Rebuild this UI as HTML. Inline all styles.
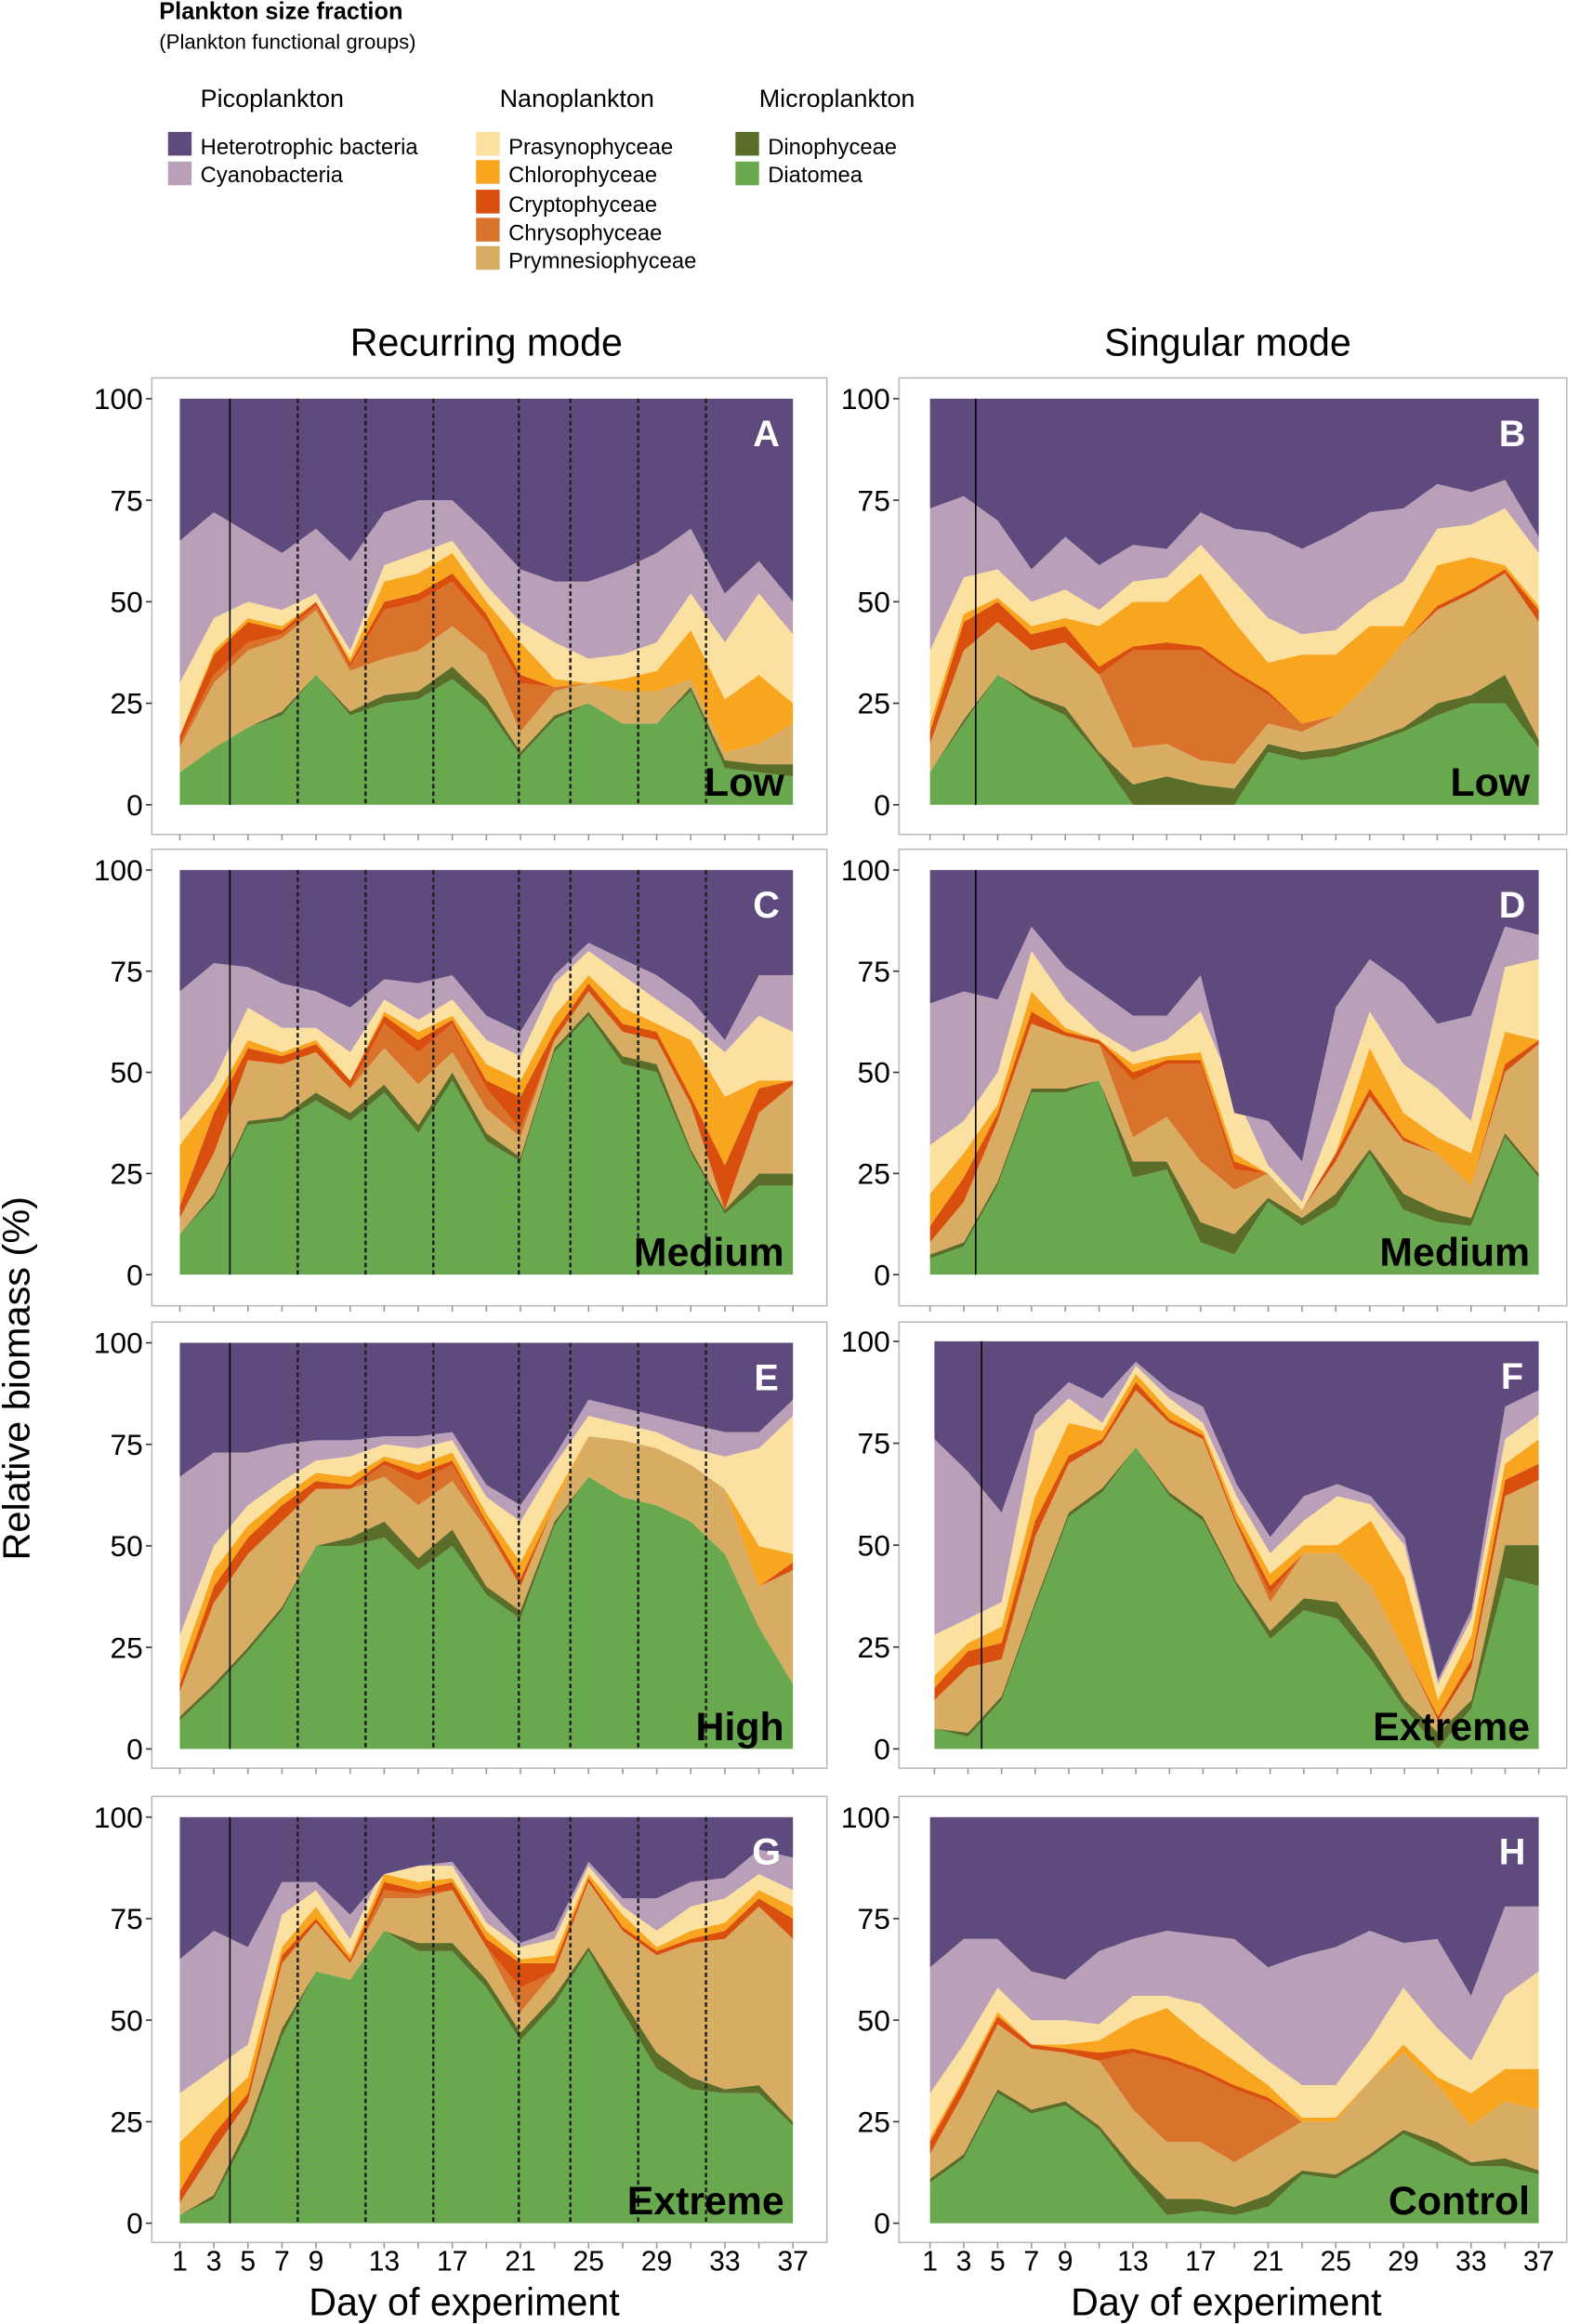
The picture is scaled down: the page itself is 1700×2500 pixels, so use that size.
<!DOCTYPE html>
<html><head><meta charset="utf-8">
<style>html,body{margin:0;padding:0;background:#fff}svg{display:block}</style>
</head><body>
<svg id="s" xmlns="http://www.w3.org/2000/svg" width="1700" height="2500" viewBox="0 0 1072 1568" preserveAspectRatio="none" font-family="Liberation Sans, sans-serif">
<rect width="1072" height="1568" fill="#fff"/>
<text x="108" y="13" font-size="16" font-weight="bold">Plankton size fraction</text>
<text x="108" y="33" font-size="14">(Plankton functional groups)</text>
<text x="136" y="72" font-size="17">Picoplankton</text>
<text x="339" y="72" font-size="17">Nanoplankton</text>
<text x="515" y="72" font-size="17">Microplankton</text>
<g font-size="15">
<rect x="114" y="89" width="16" height="16" fill="#5e4a7c"/><text x="136" y="104">Heterotrophic bacteria</text>
<rect x="114" y="109" width="16" height="16" fill="#b9a0b8"/><text x="136" y="123">Cyanobacteria</text>
<rect x="323" y="89" width="16" height="16" fill="#fbe0a0"/><text x="345" y="104">Prasynophyceae</text>
<rect x="323" y="108" width="16" height="16" fill="#f8a51f"/><text x="345" y="123">Chlorophyceae</text>
<rect x="323" y="128" width="16" height="16" fill="#d9500e"/><text x="345" y="143">Cryptophyceae</text>
<rect x="323" y="147" width="16" height="16" fill="#d9722a"/><text x="345" y="162">Chrysophyceae</text>
<rect x="323" y="166" width="16" height="16" fill="#d8ac62"/><text x="345" y="181">Prymnesiophyceae</text>
<rect x="499" y="89" width="16" height="16" fill="#5a6e2a"/><text x="521" y="104">Dinophyceae</text>
<rect x="499" y="109" width="16" height="16" fill="#6aa84f"/><text x="521" y="123">Diatomea</text>
</g>
<text x="330" y="240" font-size="26" text-anchor="middle">Recurring mode</text>
<text x="833" y="240" font-size="26" text-anchor="middle">Singular mode</text>
<text transform="translate(20,930) rotate(-90)" font-size="26" text-anchor="middle">Relative biomass (%)</text>
<text x="315" y="1562" font-size="26" text-anchor="middle">Day of experiment</text>
<text x="832" y="1562" font-size="26" text-anchor="middle">Day of experiment</text>
<g id="plots"></g>
</svg>
<script>
var cols=["#6aa84f","#5a6e2a","#d8ac62","#d9722a","#d9500e","#f8a51f","#fbe0a0","#b9a0b8","#5e4a7c"];
var P=[
{x0:122,x1:538,y0:269,y1:543,box:[103,255,561,563],L:"A",C:"Low",v:1,d:[
[8,14,19,22,32,22,25,26,31,24,12,21,25,20,20,28,9,8,7],
[8,14,19,23,32,23,27,28,34,26,13,22,25,20,20,29,11,10,10],
[14,30,38,41,48,33,36,38,44,37,18,28,30,28,28,31,13,15,20],
[15,32,40,42,49,34,48,50,55,45,30,29,30,28,28,31,13,15,20],
[17,37,45,43,50,35,50,52,57,47,32,29,30,28,28,31,13,15,20],
[17,38,46,44,50,36,55,57,62,50,40,31,30,31,33,43,26,32,25],
[30,46,50,48,52,38,59,62,65,54,45,40,36,37,40,52,40,52,42],
[65,72,67,62,68,60,72,75,75,67,58,55,55,58,62,68,52,60,50]]},
{x0:631,x1:1044,y0:269,y1:543,box:[610,255,1063,563],L:"B",C:"Low",v:2,d:[
[8,20,32,26,22,12,0,0,0,0,13,11,12,15,18,22,25,25,14],
[8,21,32,27,24,13,5,7,5,4,15,13,14,16,19,25,27,32,16],
[15,38,45,38,40,32,14,15,11,10,20,18,22,30,40,48,52,57,45],
[15,38,45,38,40,32,38,38,38,32,27,20,22,30,40,48,52,57,45],
[18,45,50,42,44,34,39,40,39,33,28,20,22,30,40,49,53,58,48],
[20,47,51,44,46,44,50,50,57,45,35,37,37,44,44,59,61,59,49],
[38,56,58,50,53,48,55,56,64,55,46,42,43,50,55,68,69,73,62],
[73,76,70,58,66,59,64,63,72,68,67,63,67,72,73,79,77,80,66]]},
{x0:122,x1:538,y0:587,y1:860,box:[103,573,561,881],L:"C",C:"Medium",v:1,d:[
[10,19,37,38,43,38,45,35,48,33,28,55,64,52,50,30,15,22,22],
[10,20,38,39,45,40,47,37,50,35,29,56,65,54,52,31,16,25,25],
[14,30,53,52,55,46,56,47,55,41,34,58,70,60,58,42,16,40,47],
[14,30,53,52,55,46,62,55,62,46,36,58,70,60,58,42,16,40,47],
[17,40,56,54,57,48,64,58,63,48,44,60,72,62,60,44,27,46,48],
[32,43,58,55,58,48,65,60,64,52,48,64,74,66,62,58,44,48,48],
[38,48,66,61,61,55,68,63,68,58,54,72,80,74,68,62,55,64,60],
[70,77,76,72,70,66,73,72,74,64,60,74,82,78,74,68,58,74,74]]},
{x0:631,x1:1044,y0:587,y1:860,box:[610,573,1063,881],L:"D",C:"Medium",v:2,d:[
[4,7,22,45,45,48,24,26,8,5,18,12,17,30,16,13,12,34,24],
[5,8,23,46,46,48,28,28,13,10,19,14,20,31,20,16,14,35,25],
[8,18,38,62,59,57,34,39,28,21,25,16,28,44,33,30,22,50,57],
[8,18,38,62,59,57,48,52,52,26,25,16,28,44,33,30,22,50,57],
[12,24,40,65,60,58,50,53,53,28,25,16,30,46,34,30,22,52,58],
[20,30,42,70,61,58,52,54,55,30,25,16,30,56,40,34,30,60,58],
[32,38,50,80,68,60,55,58,65,45,27,18,40,65,52,46,38,76,78],
[67,70,68,86,76,70,64,64,74,40,38,28,66,78,72,62,64,86,84]]},
{x0:122,x1:538,y0:906,y1:1180,box:[103,892,561,1193],L:"E",C:"High",v:1,d:[
[7,15,24,34,50,50,52,44,50,38,32,55,67,62,60,56,48,30,16],
[8,16,25,35,50,52,56,47,54,40,34,56,67,62,60,56,48,30,16],
[14,36,48,56,64,64,67,60,66,54,40,60,77,76,74,70,64,40,44],
[14,36,48,56,64,64,70,66,70,55,40,60,77,76,74,70,64,40,44],
[16,40,52,60,66,65,71,68,71,56,42,60,77,76,74,70,64,40,46],
[20,44,55,62,68,67,72,70,73,58,46,62,77,76,74,70,64,50,48],
[28,50,60,66,71,72,75,74,76,62,56,70,82,80,78,74,72,74,82],
[67,73,73,75,76,76,77,77,78,65,60,72,86,84,82,80,78,78,86]]},
{x0:634,x1:1044,y0:905,y1:1180,box:[610,892,1063,1193],L:"F",C:"Extreme",v:3,d:[
[5,3,12,35,57,63,74,62,56,40,27,34,32,22,10,0,10,42,40],
[5,4,13,36,58,64,74,63,57,41,29,37,36,25,12,4,12,50,50],
[12,20,22,52,70,75,88,80,76,55,36,48,48,40,24,7,20,62,66],
[12,20,22,52,70,75,88,80,76,55,38,48,48,40,24,7,20,62,66],
[15,24,26,56,72,76,90,81,77,56,40,48,48,40,24,8,22,66,70],
[18,26,30,62,80,78,92,83,78,58,43,50,50,56,42,12,28,70,76],
[28,32,36,78,86,80,94,86,80,62,48,56,62,60,50,16,32,76,82],
[76,68,58,82,90,86,95,88,84,65,52,62,65,62,52,17,34,84,88]]},
{x0:122,x1:538,y0:1226,y1:1500,box:[103,1212,561,1513],L:"G",C:"Extreme",v:1,d:[
[2,6,22,46,62,60,72,67,67,58,45,54,67,52,38,33,32,32,24],
[2,7,24,48,62,60,72,69,69,60,47,56,68,55,42,36,33,34,25],
[5,18,30,64,74,64,80,80,82,68,52,62,84,72,66,69,70,78,70],
[5,18,30,64,74,64,82,81,82,68,58,62,84,72,66,69,70,78,70],
[8,22,32,66,75,65,84,82,84,70,64,64,85,73,67,70,72,80,75],
[20,28,36,68,78,66,86,84,85,72,65,66,86,76,68,72,74,82,78],
[32,38,44,76,82,70,88,88,88,74,68,70,88,78,72,78,80,86,82],
[65,72,68,84,84,76,86,88,89,78,69,72,89,80,80,84,85,92,90]]},
{x0:631,x1:1044,y0:1226,y1:1500,box:[610,1212,1063,1513],L:"H",C:"Control",v:0,d:[
[10,16,32,27,29,23,12,2,3,2,4,12,11,16,22,18,14,14,12],
[11,17,33,28,30,24,14,6,6,4,7,13,12,17,23,20,15,16,13],
[17,32,49,43,42,40,28,20,20,15,20,25,25,35,42,34,24,30,28],
[17,32,49,43,42,40,42,40,37,33,30,25,25,35,42,34,24,30,28],
[20,35,51,44,43,42,43,41,38,34,31,25,25,35,42,34,24,30,28],
[21,36,52,44,44,45,50,53,46,40,34,26,26,35,44,36,32,38,38],
[32,44,58,50,50,49,56,56,54,47,40,34,34,45,58,48,40,56,62],
[63,70,70,62,60,67,70,72,71,70,63,66,68,72,69,70,56,78,78]]}
];
var g=document.getElementById("plots"),h="";
P.forEach(function(p){
 var n=19,X=function(i){return p.x0+(p.x1-p.x0)*i/18},Y=function(v){return p.y1-(p.y1-p.y0)*v/100};
 var b=p.box;
 h+='<rect x="'+b[0]+'" y="'+b[1]+'" width="'+(b[2]-b[0])+'" height="'+(b[3]-b[1])+'" fill="#fff" stroke="#bbb" stroke-width="1"/>';
 var layers=p.d.concat([[100,100,100,100,100,100,100,100,100,100,100,100,100,100,100,100,100,100,100]]);
 var prev=null;
 for(var k=0;k<layers.length;k++){
  var top=layers[k],s="M";
  for(var i=0;i<n;i++)s+=X(i).toFixed(1)+","+Y(top[i]).toFixed(1)+" L";
  for(var i=n-1;i>=0;i--)s+=X(i).toFixed(1)+","+Y(prev?prev[i]:0).toFixed(1)+(i?" L":"");
  h+='<path d="'+s+'Z" fill="'+cols[k]+'"/>';prev=top;
 }
 if(p.v==1){
  h+='<line x1="156" y1="'+p.y0+'" x2="156" y2="'+p.y1+'" stroke="#000" stroke-width="1"/>';
  [202,248,294,352,387,433,479].forEach(function(x){h+='<line x1="'+x+'" y1="'+p.y0+'" x2="'+x+'" y2="'+p.y1+'" stroke="#222" stroke-width="1.6" stroke-dasharray="3,2"/>';});
 } else if(p.v>=2){
  var vx=p.v==3?666:662;
  h+='<line x1="'+vx+'" y1="'+p.y0+'" x2="'+vx+'" y2="'+p.y1+'" stroke="#000" stroke-width="1"/>';
 }
 var lx=b[0]-6;
 [0,25,50,75,100].forEach(function(v){var y=Y(v);
  h+='<line x1="'+(b[0]-4)+'" y1="'+y+'" x2="'+b[0]+'" y2="'+y+'" stroke="#333"/>';
  h+='<text x="'+lx+'" y="'+(y+7)+'" font-size="20" text-anchor="end">'+v+'</text>';});
 for(var i=0;i<n;i++)h+='<line x1="'+X(i)+'" y1="'+b[3]+'" x2="'+X(i)+'" y2="'+(b[3]+4)+'" stroke="#999"/>';
 h+='<text x="'+(p.x1-18)+'" y="'+(p.y0+32)+'" font-size="25" font-weight="bold" fill="#fff" text-anchor="middle">'+p.L+'</text>';
 h+='<text x="'+(p.x1-6)+'" y="'+(p.y1-6)+'" font-size="27" font-weight="bold" fill="#000" text-anchor="end">'+p.C+'</text>';
});
var dl=[1,3,5,7,9,13,17,21,25,29,33,37];
dl.forEach(function(d){
 var xl=122+(538-122)*(d-1)/36, xr=631+(1044-631)*(d-1)/36;
 h+='<text x="'+xl+'" y="1532" font-size="19" text-anchor="middle">'+d+'</text>';
 h+='<text x="'+xr+'" y="1532" font-size="19" text-anchor="middle">'+d+'</text>';
});
g.innerHTML=h;
</script>
</body></html>
